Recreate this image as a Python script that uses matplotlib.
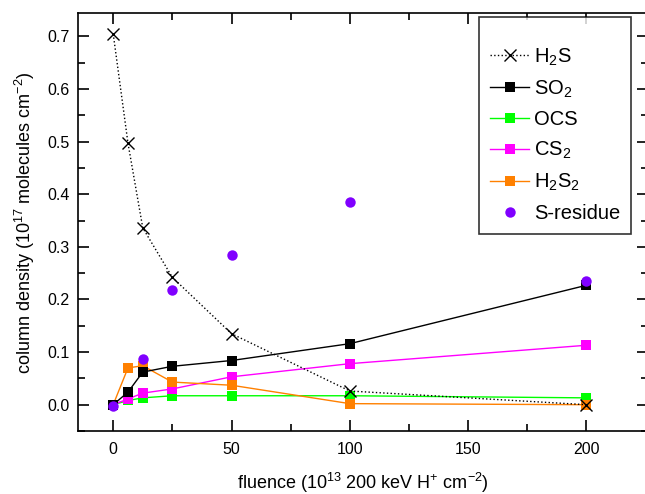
import matplotlib
matplotlib.use("Agg")
import matplotlib.pyplot as plt
from matplotlib.ticker import MultipleLocator, FormatStrFormatter

plt.rcParams['font.family'] = ['Liberation Sans', 'DejaVu Sans']
plt.rcParams['mathtext.default'] = 'regular'

fluence = [0, 6.25, 12.5, 25, 50, 100, 200]
h2s = [0.705, 0.497, 0.336, 0.242, 0.135, 0.026, 0.0]
so2 = [0.0, 0.024, 0.062, 0.073, 0.084, 0.116, 0.227]
ocs = [0.0, 0.008, 0.013, 0.017, 0.017, 0.017, 0.013]
cs2 = [0.0, 0.011, 0.022, 0.030, 0.053, 0.078, 0.113]
h2s2 = [0.0, 0.070, 0.074, 0.043, 0.037, 0.002, 0.0]
sres_x = [0, 12.5, 25, 50, 100, 200]
sres = [-0.002, 0.086, 0.218, 0.285, 0.385, 0.236]

fig = plt.figure(figsize=(6.45, 4.94), dpi=100)
W, H = 645.0, 494.0
ax = fig.add_axes([77.7 / W, 1 - 431 / H, (648 - 77.7) / W, (431 - 13.3) / H])

ms_sq = 6.5
ax.plot(fluence, ocs, '-', color='#00ff00', lw=1, marker='s', ms=ms_sq, mew=0, label='OCS', zorder=2)
ax.plot(fluence, cs2, '-', color='#ff00ff', lw=1, marker='s', ms=ms_sq, mew=0, label='CS$_2$', zorder=3)
ax.plot(fluence, h2s2, '-', color='#ff8000', lw=1, marker='s', ms=ms_sq, mew=0, label='H$_2$S$_2$', zorder=4)
ax.plot(fluence, so2, '-', color='black', lw=1, marker='s', ms=ms_sq, mew=0, label='SO$_2$', zorder=5)
ax.plot(fluence, h2s, ':', color='black', lw=1, marker='x', ms=8, mew=1, label='H$_2$S', zorder=6)
ax.plot(sres_x, sres, 'o', color='#8000ff', ms=7.5, mew=0, label='S-residue', zorder=7)

ax.set_xlim(-15, 226)
ax.set_ylim(-0.05, 0.744)
ax.xaxis.set_major_locator(MultipleLocator(50))
ax.xaxis.set_minor_locator(MultipleLocator(25))
ax.yaxis.set_major_locator(MultipleLocator(0.1))
ax.yaxis.set_minor_locator(MultipleLocator(0.05))
ax.yaxis.set_major_formatter(FormatStrFormatter('%.1f'))
ax.tick_params(which='both', direction='in', top=True, right=True, width=1.2, labelsize=11.5)
ax.tick_params(which='major', length=8)
ax.tick_params(which='minor', length=5)
ax.tick_params(axis='x', which='major', pad=8)
ax.tick_params(axis='y', which='major', pad=6)
for s in ax.spines.values():
    s.set_linewidth(1.2)

ax.set_xlabel('fluence (10$^{13}$ 200 keV H$^{+}$ cm$^{-2}$)', fontsize=13, labelpad=10)
ax.set_ylabel('column density (10$^{17}$ molecules cm$^{-2}$)', fontsize=13, labelpad=7)

handles, labels = ax.get_legend_handles_labels()
order = ['H$_2$S', 'SO$_2$', 'OCS', 'CS$_2$', 'H$_2$S$_2$', 'S-residue']
hd = dict(zip(labels, handles))
leg = ax.legend([hd[k] for k in order], order, loc='upper right',
                bbox_to_anchor=(631 / W, 1 - 17.5 / H), bbox_transform=fig.transFigure,
                fontsize=14.5, frameon=True, fancybox=False, edgecolor='black',
                handlelength=1.9, handletextpad=0.25, labelspacing=0.53,
                borderpad=0.55, borderaxespad=0, title=' ', title_fontsize=6)
leg.get_frame().set_linewidth(1.2)

fig.savefig('out.png', dpi=100)
